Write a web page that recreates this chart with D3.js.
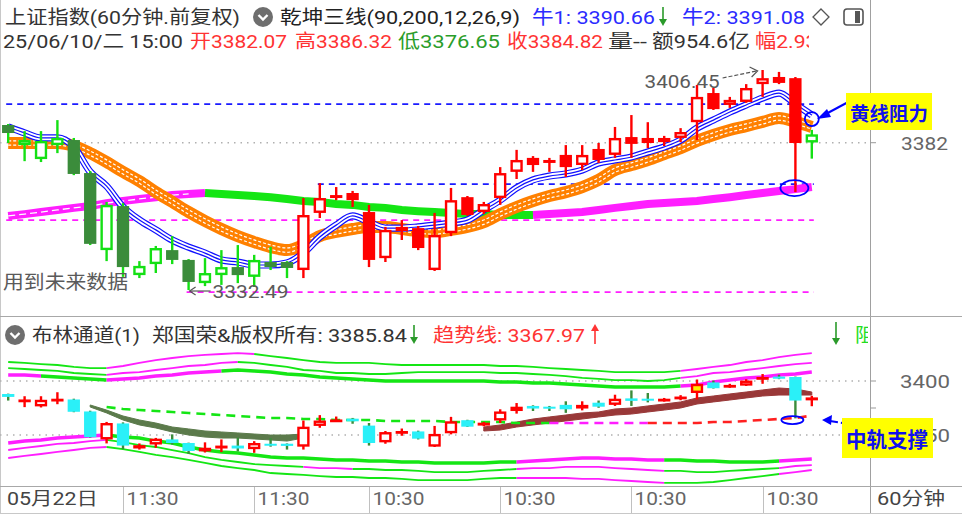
<!DOCTYPE html>
<html><head><meta charset="utf-8">
<script src="https://cdn.jsdelivr.net/npm/d3@7"></script>
<style>
html,body{margin:0;padding:0;background:#fff;}
svg{display:block;font-family:Roboto,"Noto Sans CJK SC","Noto Sans",sans-serif;}
</style></head><body>
<svg id="c" width="962" height="514"></svg>
<script>
// ---------------- DATA ----------------
const open  = [3387.95,3381.2,3376.5,3381.2,3382.9,3371.8,3345.9,3360.7,3337.5,3341.2,
               3345.9,3342.6,3334.8,3337.5,3340.2,3336.9,3341.9,3341.9,3339.2,3358.4,
               3363.4,3365.1,3358.7,3343.2,3352.3,3353.3,3339.2,3351.6,3363.7,3358.7,
               3363.4,3372.2,3376.9,3376.2,3377.9,3374.5,3379.9,3377.9,3383.9,3383.6,
               3382.2,3383.6,3388.9,3398.7,3394.7,3395.7,3401.7,3404.1,3403.7,3382.07];
const high  = [3388.3,3385.9,3385.9,3389.6,3383.6,3372.5,3362.1,3361.7,3342.2,3347.3,
               3350.6,3342.9,3343.2,3345.9,3347.6,3344.3,3347.0,3342.2,3363.4,3368.4,
               3367.1,3365.8,3361.1,3353.7,3356.0,3354.0,3358.4,3366.8,3364.1,3362.1,
               3373.8,3379.6,3377.5,3376.9,3381.2,3381.2,3381.9,3387.3,3391.3,3388.9,
               3384.3,3386.9,3401.4,3400.4,3397.4,3401.7,3406.45,3405.8,3404.1,3386.32];
const low   = [3381.9,3375.8,3375.5,3378.5,3371.1,3347.6,3342.2,3336.9,3336.5,3338.2,
               3341.2,3332.49,3333.8,3334.2,3334.8,3333.5,3339.2,3336.5,3336.5,3356.7,
               3362.7,3360.4,3340.2,3341.9,3349.3,3345.9,3338.9,3350.6,3357.4,3358.0,
               3361.1,3369.8,3372.2,3372.2,3370.5,3372.8,3375.2,3376.9,3376.9,3380.2,
               3380.9,3382.2,3382.9,3393.0,3393.7,3395.4,3397.4,3401.7,3365.4,3376.65];
const close = [3385.26,3382.9,3382.6,3383.6,3371.5,3348.0,3361.1,3340.2,3340.6,3346.6,
               3342.6,3335.2,3338.2,3340.2,3337.5,3342.6,3340.2,3339.9,3357.7,3363.4,
               3364.4,3362.7,3342.6,3352.7,3353.7,3346.6,3351.0,3362.7,3357.7,3361.4,
               3371.8,3376.2,3374.5,3375.2,3373.8,3377.9,3376.2,3383.6,3381.6,3381.9,
               3383.6,3385.6,3397.4,3393.3,3396.4,3400.4,3403.7,3402.1,3381.9,3384.82];
// candle colour state in the upper panel: d = dark green, g = green, r = red
const candleKind = "dgggddgdggddggdgdd" + "rrrrrrrrrr" + "rrrrrrrrrr" + "rrrrrrrrrr" + "r" + "g";

// upper panel lines
const blueLine = [3387.3,3385.3,3383.6,3383.6,3380.6,3372.2,3367.4,3360.4,3356.0,3352.7,
                  3349.3,3346.9,3344.9,3342.6,3341.9,3340.9,3340.9,3341.6,3344.9,3350.3,
                  3354.3,3357.4,3355.3,3353.3,3353.3,3353.7,3354.3,3355.0,3356.0,3359.4,
                  3362.7,3366.8,3369.5,3370.8,3371.5,3372.8,3375.2,3376.2,3377.2,3378.9,
                  3380.6,3382.9,3386.9,3389.6,3392.3,3394.7,3397.0,3398.7,3395.0,3391.3];
const orangeLine = [3381.9,3381.9,3381.9,3381.9,3380.9,3378.5,3375.5,3372.2,3369.1,3365.4,
                    3362.1,3358.7,3355.7,3353.0,3350.6,3348.6,3346.9,3345.9,3347.6,3350.6,
                    3352.0,3353.0,3353.7,3353.7,3353.0,3352.3,3352.0,3352.7,3353.7,3355.3,
                    3358.0,3360.4,3362.4,3364.1,3365.4,3367.1,3369.5,3372.8,3374.5,3376.2,
                    3378.2,3380.2,3382.6,3384.6,3386.3,3387.6,3389.0,3390.3,3389.0,3387.3];
const longLine = [3357.4,3358.0,3358.7,3359.4,3360.1,3360.7,3361.7,3362.4,3363.1,3363.7,
                  3364.4,3364.8,3365.1,3364.8,3364.4,3364.1,3363.7,3363.1,3362.4,3362.1,
                  3361.4,3361.1,3360.4,3360.1,3359.4,3359.0,3358.7,3358.4,3358.0,3358.0,
                  3357.7,3357.7,3357.7,3358.0,3358.4,3358.7,3359.4,3360.1,3360.7,3361.4,
                  3361.7,3362.1,3362.4,3363.1,3363.7,3364.4,3365.1,3365.8,3366.4,3367.1];
const longLineColors = [[0,'m'],[12,'g'],[32,'m']];
const blueLevels = [3395.0, 3368.1];
const blueLevelStart = [0, 19];
const pinkLevels = [3356.0, 3331.8];
const pinkLevelStart = [0, 11];
const mainTicks = [3382];
const lowMark = 3332.49, lowMarkBar = 11;
const highMark = 3406.45, highMarkBar = 46;

// lower panel (布林通道)
const up1 = [3417.6,3416.7,3415.7,3414.8,3413.0,3412.0,3412.0,3413.9,3416.7,3419.4,
             3421.3,3423.1,3424.1,3425.0,3425.9,3425.0,3423.1,3421.3,3419.4,3417.6,
             3416.7,3416.7,3416.7,3415.7,3414.8,3414.8,3414.8,3414.8,3414.8,3414.8,
             3413.9,3413.9,3413.0,3412.0,3411.1,3410.2,3409.3,3408.3,3408.3,3408.3,
             3408.3,3409.3,3411.1,3413.0,3414.8,3417.6,3419.4,3422.2,3424.1,3425.9];
const up2 = [3412.0,3411.1,3410.2,3409.3,3407.4,3406.5,3405.6,3407.4,3408.3,3410.2,
             3412.0,3413.9,3414.8,3416.7,3417.6,3416.7,3414.8,3413.0,3410.2,3409.3,
             3407.4,3407.4,3406.5,3406.5,3407.4,3408.3,3408.3,3408.3,3408.3,3408.3,
             3407.4,3407.4,3406.5,3405.6,3404.6,3402.8,3401.9,3400.9,3400.9,3400.0,
             3400.9,3402.8,3404.6,3407.4,3408.3,3410.2,3412.0,3413.9,3415.7,3416.7];
const up3 = [3405.6,3405.6,3404.6,3403.7,3402.8,3401.9,3400.9,3401.9,3402.8,3404.6,
             3405.6,3407.4,3408.3,3409.3,3410.2,3409.3,3408.3,3406.5,3405.6,3403.7,
             3402.8,3401.9,3400.9,3400.0,3400.0,3400.0,3400.0,3400.0,3400.0,3400.0,
             3399.1,3399.1,3398.1,3398.1,3397.2,3396.3,3395.4,3394.4,3394.4,3394.4,
             3394.4,3395.4,3396.3,3399.1,3400.9,3402.8,3403.7,3405.6,3406.5,3408.3];
const dn1 = [3342.6,3344.4,3345.4,3347.2,3348.1,3349.1,3350.0,3348.1,3347.2,3344.4,
             3342.6,3338.9,3336.1,3334.3,3333.3,3331.5,3329.6,3328.7,3328.7,3327.8,
             3326.9,3326.9,3325.9,3325.9,3325.0,3325.0,3324.1,3324.1,3324.1,3324.1,
             3325.0,3325.0,3325.9,3326.9,3327.8,3328.7,3328.7,3327.8,3327.8,3326.9,
             3326.9,3326.9,3325.9,3325.9,3325.0,3325.0,3325.0,3325.9,3326.9,3327.8];
const dn2 = [3336.1,3338.0,3339.8,3341.7,3342.6,3344.4,3345.4,3343.5,3340.7,3338.9,
             3336.1,3333.3,3329.6,3326.9,3325.0,3323.1,3322.2,3321.3,3320.4,3319.4,
             3319.4,3318.5,3318.5,3317.6,3317.6,3316.7,3315.7,3315.7,3315.7,3316.7,
             3317.6,3318.5,3319.4,3319.4,3320.4,3320.4,3320.4,3319.4,3318.5,3317.6,
             3316.7,3316.7,3315.7,3315.7,3316.7,3317.6,3318.5,3319.4,3321.3,3322.2];
const dn3 = [3328.7,3330.6,3332.4,3334.3,3336.1,3338.0,3338.9,3337.0,3334.3,3331.5,
             3329.6,3326.9,3324.1,3321.3,3319.4,3317.6,3314.8,3313.9,3313.0,3312.0,
             3311.1,3311.1,3310.2,3310.2,3309.3,3308.3,3308.3,3308.3,3308.3,3309.3,
             3310.2,3310.2,3310.2,3310.2,3310.2,3309.3,3309.3,3308.3,3307.4,3306.5,
             3305.6,3305.6,3305.6,3306.5,3308.3,3310.2,3312.0,3313.9,3315.7,3317.6];
const up1Colors = [[0,'g'],[6,'m'],[15,'g'],[41,'m']];
const up2Colors = [[0,'g'],[6,'m'],[14,'g'],[41,'m']];
const up3Colors = [[0,'m'],[2,'g'],[6,'m'],[13,'g'],[41,'m']];
const dn1Colors = [[0,'m'],[6,'g'],[31,'m'],[40,'g'],[47,'m']];
const dn2Colors = [[0,'m'],[6,'g'],[18,'m'],[21,'g'],[31,'m'],[40,'g'],[47,'m']];
const dn3Colors = [[0,'m'],[6,'g'],[31,'m'],[40,'g'],[47,'m']];
const N = null;
const midA = [N,N,N,N,N,3377.8,3373.1,3367.6,3363.9,3361.1,
              3357.4,3355.6,3353.7,3352.8,3351.9,3350.9,3350.0,3350.0,3350.9,N,
              N,N,N,N,N,N,N,N,N,3357.4,
              3359.3,3362.0,3364.8,3366.7,3368.5,3370.4,3371.3,3374.1,3375.0,3376.9,
              3378.7,3380.6,3384.3,3386.1,3388.0,3389.8,3391.7,3393.5,3392.6,3389.8];
const midB = [N,N,N,N,N,3375.9,3370.4,3363.9,3359.3,3356.5,
              3352.8,3350.0,3348.1,3347.2,3347.2,3346.3,3345.4,3344.4,3347.2,N,
              N,N,N,N,N,N,N,N,N,3353.7,
              3354.6,3357.4,3359.3,3361.1,3363.0,3364.8,3366.7,3368.5,3369.4,3371.3,
              3373.1,3375.0,3378.7,3380.6,3382.4,3384.3,3386.1,3387.0,3387.0,3387.0];
const trendLine = [N,N,N,N,N,N,3375.9,3374.1,3373.1,3372.2,
                   3371.3,3370.4,3369.4,3368.5,3367.6,3366.7,3365.7,3365.7,3364.8,3364.8,
                   3363.9,3363.9,3363.9,3363.0,3363.0,3363.0,3363.0,3362.0,3362.0,3362.0,
                   3362.0,3361.1,3361.1,3361.1,3361.1,3361.1,3361.1,3361.1,3361.1,3361.1,
                   3361.1,3361.1,3361.1,3362.0,3362.0,3363.0,3363.9,3364.8,3365.7,3368.0];
const trendColors = [[6,'g'],[33,'m'],[39,'r']];
const lowerTicks = [3400, 3375, 3350];
const lowerLabels = ["3400", "", "3350"];
const highlightBars = [42];

// axis
const firstDateLabel = "05月22日";
const tickBars = [7, 15, 22, 30, 38, 46];
const tickLabels = ["11:30","11:30","10:30","10:30","10:30","10:30"];
const periodLabel = "60分钟";

// ---------------- DRAW ----------------
const svg = d3.select('#c');
const n = open.length;
const x = d3.scaleBand().domain(d3.range(n)).range([0, 820]).paddingInner(0.25).paddingOuter(0.125);
const bw = x.bandwidth();
const cx = i => x(i) + bw / 2;
const yM = d3.scaleLinear().domain([3325.77, 3423.25]).range([310, 20]);
const yB = d3.scaleLinear().domain([3350, 3400]).range([435, 381]);
const COL = {g:'#14e614', m:'#ff1eff', r:'#ff2020'};

svg.append('rect').attr('width',962).attr('height',514).attr('fill','#fff');
const defs = svg.append('defs');
defs.append('clipPath').attr('id','cm').append('rect').attr('x',0).attr('y',54).attr('width',868).attr('height',260);
defs.append('clipPath').attr('id','cb').append('rect').attr('x',0).attr('y',318).attr('width',868).attr('height',167);
defs.append('clipPath').attr('id','ch').append('rect').attr('x',0).attr('y',0).attr('width',809).attr('height',60);
defs.append('clipPath').attr('id','ch2').append('rect').attr('x',0).attr('y',318).attr('width',868).attr('height',40);
defs.append('clipPath').attr('id','cl').append('rect').attr('x',933).attr('y',318).attr('width',29).attr('height',167);

function txt(g, s, x0, yb, len, color, size, weight) {
  const t = g.append('text').attr('x',x0).attr('y',yb).text(s)
    .attr('fill',color).attr('font-size',size||19).attr('font-weight',weight||'normal');
  if (len) t.attr('textLength',len).attr('lengthAdjust','spacingAndGlyphs');
  return t;
}
function runs(g, yS, vals, rr, width, dash) {
  rr.forEach((r, j) => {
    const a = r[0], b = j + 1 < rr.length ? rr[j + 1][0] : n - 1;
    const idx = d3.range(a, b + 1).filter(i => vals[i] != null);
    const p = g.append('path').attr('d', d3.line().x(i => cx(i)).y(i => yS(vals[i]))(idx))
      .attr('fill','none').attr('stroke',COL[r[1]]).attr('stroke-width',width);
    if (dash) p.attr('stroke-dasharray',dash);
  });
}
function arrowV(g, x0, y1, y2, color) {
  const d = y2 > y1 ? 1 : -1;
  g.append('line').attr('x1',x0).attr('x2',x0).attr('y1',y1).attr('y2',y2 - d*2).attr('stroke',color).attr('stroke-width',1.6);
  g.append('path').attr('d',`M${x0-4},${y2-d*7}L${x0},${y2}L${x0+4},${y2-d*7}Z`).attr('fill',color);
}
function icon(g, x0, y0) {
  g.append('circle').attr('cx',x0).attr('cy',y0).attr('r',10).attr('fill','#6e6e6e');
  g.append('path').attr('d',`M${x0-4.5},${y0-2}L${x0},${y0+2.5}L${x0+4.5},${y0-2}`).attr('fill','none').attr('stroke','#fff').attr('stroke-width',2.4);
}

// frame lines
svg.append('line').attr('x1',870.5).attr('x2',870.5).attr('y1',0).attr('y2',514).attr('stroke','#a0a0a0');
svg.append('line').attr('x1',0.5).attr('x2',0.5).attr('y1',0).attr('y2',514).attr('stroke','#c8c8c8');
svg.append('line').attr('x1',0).attr('x2',962).attr('y1',316.5).attr('y2',316.5).attr('stroke','#a8a8a8');
svg.append('line').attr('x1',0).attr('x2',962).attr('y1',486.5).attr('y2',486.5).attr('stroke','#a8a8a8');
svg.append('line').attr('x1',0).attr('x2',962).attr('y1',513.5).attr('y2',513.5).attr('stroke','#c8c8c8');

// ---------- header ----------
const hd = svg.append('g');
txt(hd,'上证指数(60分钟.前复权)',5,24,235,'#333');
icon(hd,263,17);
txt(hd,'乾坤三线(90,200,12,26,9)',280,24,240,'#222');
txt(hd,'牛1: 3390.66',532,24,123,'#2b2bff');
arrowV(hd,663,7,26,'#2a9a2a');
txt(hd,'牛2: 3391.08',682,24,123,'#2b2bff');
hd.append('path').attr('d','M821,9L829,17L821,25L813,17Z').attr('fill','none').attr('stroke','#555').attr('stroke-width',1.3);
hd.append('rect').attr('x',844).attr('y',9).attr('width',19).attr('height',16).attr('rx',3).attr('fill','none').attr('stroke','#555').attr('stroke-width',1.6);
hd.append('rect').attr('x',855).attr('y',11).attr('width',5).attr('height',12).attr('fill','#555');
const h2 = svg.append('g').attr('clip-path','url(#ch)');
txt(h2,'25/06/10/二 15:00',3,48,180,'#333');
txt(h2,'开3382.07',190,48,97,'#ff3333');
txt(h2,'高3386.32',295,48,97,'#ff3333');
txt(h2,'低3376.65',398,48,102,'#2a9d2a');
txt(h2,'收3384.82',507,48,96,'#ff3333');
txt(h2,'量--',608,48,39,'#333');
txt(h2,'额954.6亿',652,48,98,'#333');
txt(h2,'幅2.93%',755,48,78,'#ff3333');

// ---------- main panel ----------
const gm = svg.append('g').attr('clip-path','url(#cm)');
mainTicks.forEach(v => {
  gm.append('line').attr('x1',0).attr('x2',870).attr('y1',yM(v)).attr('y2',yM(v))
    .attr('stroke','#b0b0b0').attr('stroke-width',1.5).attr('stroke-dasharray','1.5,5');
});
blueLevels.forEach((v,k) => gm.append('line').attr('x1',cx(blueLevelStart[k])-2).attr('x2',cx(n-1)+2)
  .attr('y1',yM(v)).attr('y2',yM(v)).attr('stroke','#1a1aff').attr('stroke-width',1.8).attr('stroke-dasharray','6,5'));
pinkLevels.forEach((v,k) => gm.append('line').attr('x1',cx(pinkLevelStart[k])-2).attr('x2',cx(n-1)+2)
  .attr('y1',yM(v)).attr('y2',yM(v)).attr('stroke','#ff1eff').attr('stroke-width',1.8).attr('stroke-dasharray','6,5'));

runs(gm, yM, longLine, longLineColors, 8);
gm.append('path').attr('d', d3.line().x(i=>cx(i)).y(i=>yM(longLine[i]))(d3.range(0,12)))
  .attr('fill','none').attr('stroke','#fff').attr('stroke-width',1.3).attr('stroke-dasharray','7,4');

const lineGen = vals => d3.line().x((d,i)=>cx(i)).y(d=>yM(d)).curve(d3.curveMonotoneX)(vals);
gm.append('path').attr('d',lineGen(orangeLine)).attr('fill','none').attr('stroke','#ff8000').attr('stroke-width',12).attr('stroke-linejoin','round');
[-2.2, 2.2].forEach(o => gm.append('path').attr('d',lineGen(orangeLine)).attr('transform',`translate(0,${o})`)
  .attr('fill','none').attr('stroke','#fff').attr('stroke-width',1.2).attr('stroke-dasharray','3,2'));
gm.append('path').attr('d',lineGen(blueLine)).attr('fill','none').attr('stroke','#1010ff').attr('stroke-width',7.2).attr('stroke-linejoin','round');
gm.append('path').attr('d',lineGen(blueLine)).attr('fill','none').attr('stroke','#fff').attr('stroke-width',4.8).attr('stroke-linejoin','round');
gm.append('path').attr('d',lineGen(blueLine)).attr('fill','none').attr('stroke','#1010ff').attr('stroke-width',1.2);

function candles(g, yS, styleOf) {
  d3.range(n).forEach(i => {
    const o = open[i], c = close[i], up = c >= o, st = styleOf(i, up);
    g.append('line').attr('x1',cx(i)).attr('x2',cx(i)).attr('y1',yS(high[i])).attr('y2',yS(low[i]))
      .attr('stroke',st.wick).attr('stroke-width',2.4);
    const top = yS(Math.max(o,c)), bot = yS(Math.min(o,c));
    if (st.hollow) {
      g.append('rect').attr('x',x(i)+1.2).attr('y',top+1.2).attr('width',bw-2.4)
        .attr('height',Math.max(bot-top-2.4,0.4)).attr('fill',st.fill).attr('stroke',st.stroke).attr('stroke-width',2.4);
    } else {
      g.append('rect').attr('x',x(i)).attr('y',top).attr('width',bw)
        .attr('height',Math.max(bot-top,2)).attr('fill',st.fill);
    }
  });
}
candles(gm, yM, (i, up) => {
  const k = candleKind[i];
  if (k === 'd') return {wick:'#14e014', fill:'#3b8c3b'};
  const col = k === 'r' ? '#ff0000' : '#14e014';
  return up ? {hollow:true, stroke:col, fill:'#fff', wick:col} : {fill:col, wick:col};
});

// main annotations
const an = svg.append('g');
txt(an,'用到未来数据',3,289,125,'#5a5a5a');
const lx = cx(lowMarkBar), ly = yM(lowMark);
an.append('line').attr('x1',lx+1).attr('x2',lx+22).attr('y1',ly+1).attr('y2',ly+1).attr('stroke','#555').attr('stroke-width',1.2);
an.append('path').attr('d',`M${lx+7},${ly-3}L${lx+1},${ly+1}L${lx+7},${ly+5}`).attr('fill','none').attr('stroke','#555').attr('stroke-width',1.2);
txt(an,lowMark.toFixed(2),lx+24,298,76,'#5a5a5a');
const hx = cx(highMarkBar), hy = yM(highMark);
txt(an,highMark.toFixed(2),hx-118,88,75,'#5a5a5a');
an.append('path').attr('d',`M${hx-40},${hy+8}L${hx-6},${hy+1}`).attr('stroke','#555').attr('stroke-width',1.2).attr('stroke-dasharray','4,2').attr('fill','none');
an.append('path').attr('d',`M${hx-13},${hy-3}L${hx-5},${hy+1}L${hx-11},${hy+7}`).attr('fill','none').attr('stroke','#555').attr('stroke-width',1.2);
an.append('circle').attr('cx',cx(n-1)).attr('cy',yM(blueLine[n-1])+4).attr('r',7).attr('fill','none').attr('stroke','#0000ff').attr('stroke-width',1.8);
an.append('ellipse').attr('cx',cx(n-2)-1).attr('cy',yM(low[n-2])-4).attr('rx',14).attr('ry',8).attr('fill','none').attr('stroke','#0000ff').attr('stroke-width',1.8);
an.append('line').attr('x1',852).attr('x2',824).attr('y1',100).attr('y2',115).attr('stroke','#0000ff').attr('stroke-width',2);
an.append('path').attr('d','M817,119L827,109L831,117Z').attr('fill','#0000ff');
an.append('rect').attr('x',846).attr('y',93).attr('width',86).attr('height',37).attr('fill','#ffff00');
txt(an,'黄线阻力',850,121,78,'#1010ee',19,'bold');
svg.append('line').attr('x1',870).attr('x2',876).attr('y1',yM(mainTicks[0])).attr('y2',yM(mainTicks[0])).attr('stroke','#999');
txt(svg,String(mainTicks[0]),901,yM(mainTicks[0])+7,47,'#666');

// ---------- lower panel ----------
const hb = svg.append('g').attr('clip-path','url(#ch2)');
icon(hb,15,335);
txt(hb,'布林通道(1)',32,342,108,'#333');
txt(hb,'郑国荣&版权所有: 3385.84',152,342,255,'#333');
arrowV(hb,414,325,344,'#2a9a2a');
txt(hb,'趋势线: 3367.97',433,342,152,'#ff3333');
arrowV(hb,595,344,324,'#ff3333');
arrowV(hb,836,322,345,'#2a9a2a');
txt(hb,'阻',855,342,20,'#22dd22');

const gb = svg.append('g').attr('clip-path','url(#cb)');
[3400, 3350].forEach(v => gb.append('line').attr('x1',0).attr('x2',870).attr('y1',yB(v)).attr('y2',yB(v))
  .attr('stroke','#b0b0b0').attr('stroke-width',1.5).attr('stroke-dasharray','1.5,5'));
runs(gb, yB, up1, up1Colors, 1.8);
runs(gb, yB, up2, up2Colors, 1.8);
runs(gb, yB, up3, up3Colors, 3.4);
runs(gb, yB, dn1, dn1Colors, 3.4);
runs(gb, yB, dn2, dn2Colors, 1.8);
runs(gb, yB, dn3, dn3Colors, 1.8);
const segs = [];
let cur = null;
d3.range(n).forEach(i => {
  if (midA[i] != null) { if (!cur) { cur = []; segs.push(cur); } cur.push(i); } else cur = null;
});
segs.forEach(s => {
  const rising = midA[s[s.length-1]] > midA[s[0]];
  gb.append('path').attr('d', d3.area().x(i=>cx(i)).y0(i=>yB(midB[i])).y1(i=>yB(midA[i]))(s))
    .attr('fill', rising ? '#993838' : '#5b7a4b').attr('stroke', rising ? '#993838' : '#5b7a4b').attr('stroke-width',1);
});
runs(gb, yB, trendLine, trendColors, 2.6, '9,6');
candles(gb, yB, (i, up) => up
  ? {hollow:true, stroke:'#ff0000', fill: highlightBars.includes(i) ? '#ffee00' : '#fff', wick:'#ff0000'}
  : {fill:'#2af0f8', wick:'#3b8c3b'});
const ab = svg.append('g');
ab.append('ellipse').attr('cx',cx(n-2)-3).attr('cy',yB(trendLine[n-2])+2).attr('rx',11).attr('ry',4).attr('fill','none').attr('stroke','#0000ff').attr('stroke-width',1.8);
ab.append('path').attr('d','M822,420L832,415L831,425Z').attr('fill','#0000ff');
ab.append('line').attr('x1',830).attr('x2',849).attr('y1',421).attr('y2',424).attr('stroke','#0000ff').attr('stroke-width',2).attr('stroke-dasharray','8,3');
lowerTicks.forEach((v,k) => {
  svg.append('line').attr('x1',870).attr('x2',876).attr('y1',yB(v)).attr('y2',yB(v)).attr('stroke','#999');
  if (lowerLabels[k]) {
    const t = txt(svg,lowerLabels[k],900,yB(v)+7,50,'#666');
    if (v === 3350) t.attr('clip-path','url(#cl)');
  }
});
ab.append('rect').attr('x',842).attr('y',418).attr('width',91).attr('height',40).attr('fill','#ffff00');
txt(ab,'中轨支撑',846,447,82,'#1010ee',21,'bold');

// ---------- x axis ----------
const ax = svg.append('g');
txt(ax,firstDateLabel,7,505,91,'#444',18);
tickBars.forEach((b,k) => {
  const tx = Math.round(cx(b)) + 0.5;
  ax.append('line').attr('x1',tx).attr('x2',tx).attr('y1',487).attr('y2',513).attr('stroke','#c0c0c0');
  txt(ax,tickLabels[k],tx+3,505,52,'#666',18);
});
txt(ax,periodLabel,877,505,68,'#444',18);
</script>
</body></html>
